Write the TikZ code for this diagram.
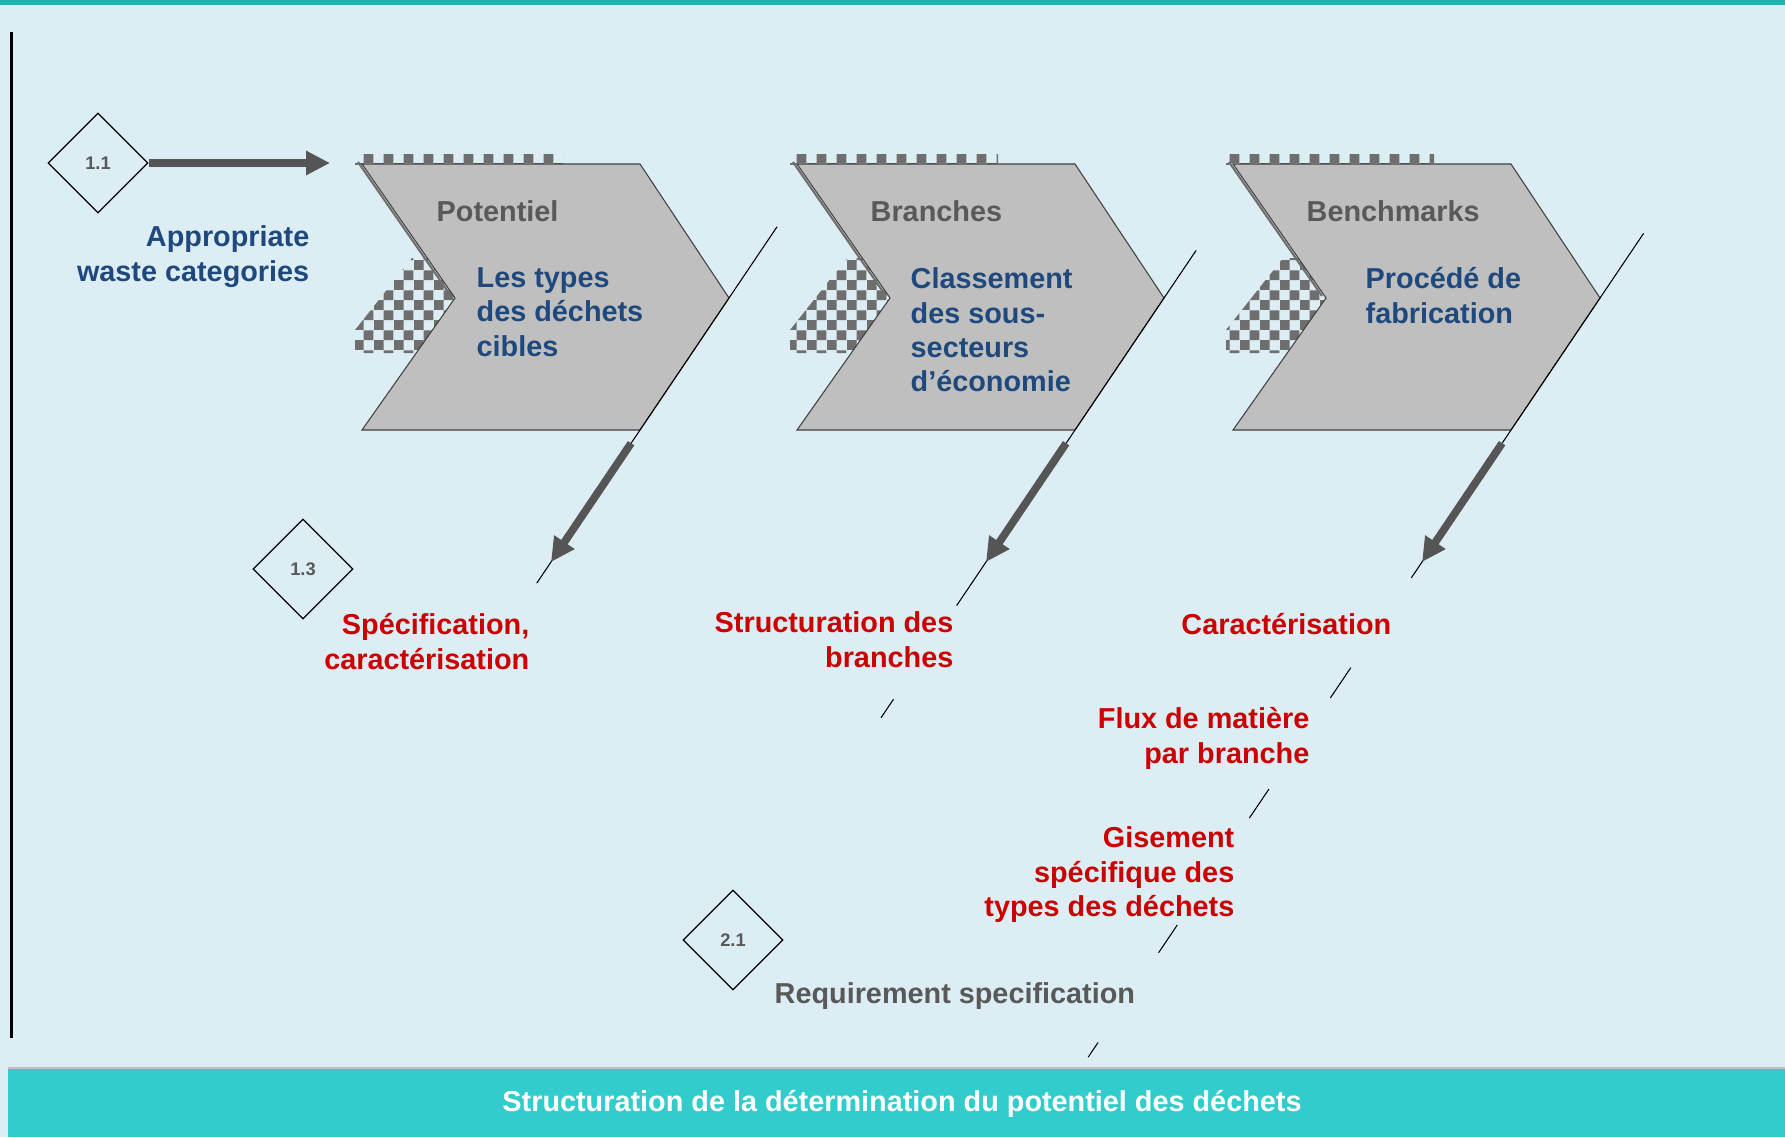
\documentclass[tikz,border=0pt]{standalone}
\usepackage{fontspec}
\setmainfont{Liberation Sans}
\usetikzlibrary{shapes.geometric, arrows.meta, patterns, calc}

\definecolor{fond}{RGB}{220,238,244}
\definecolor{bande}{RGB}{51,204,204}
\definecolor{bleu}{RGB}{31,73,125}
\definecolor{rouge}{RGB}{204,0,0}
\definecolor{gris}{RGB}{89,89,89}
\definecolor{fleche}{RGB}{85,85,85}
\definecolor{ombre}{RGB}{110,110,110}

% petit damier pour les ombres
\pgfdeclarepatternformonly{damier}{\pgfpointorigin}{\pgfqpoint{5.6pt}{5.6pt}}{\pgfqpoint{5.6pt}{5.6pt}}{
	\pgfpathrectangle{\pgfpointorigin}{\pgfqpoint{2.8pt}{2.8pt}}
	\pgfpathrectangle{\pgfqpoint{2.8pt}{2.8pt}}{\pgfqpoint{2.8pt}{2.8pt}}
	\pgfusepath{fill}
}

\tikzset{
  etape/.style={draw=black!75, fill=black!25, line width=0.3pt},
  losange/.style={draw, diamond, aspect=1, minimum size=1cm, inner sep=0pt, line width=0.35pt, text=gris, font=\fontsize{5.2}{6}\selectfont\bfseries},
  texte/.style={inner sep=0pt, font=\fontsize{8.2}{9.8}\selectfont\bfseries},
  grosse/.style={draw=fleche, line width=2.2pt, -{Triangle[length=0.24cm, width=0.23cm]}},
  fin/.style={line width=0.3pt}
}

\begin{document}
\begin{tikzpicture}
	\useasboundingbox (0,0) rectangle (17.85,-11.37);
	% fond et bandes
	\fill[fond] (0,0) rectangle (17.85,-11.37);
	\fill[bande!85!black] (0,0) rectangle (17.85,-0.05);
	\fill[bande] (0.08,-10.68) rectangle (17.85,-11.37);
	\draw[black!25] (0.08,-10.68) -- (17.85,-10.68);
	\draw[line width=0.03cm] (0.11,-0.32) -- (0.11,-10.38);
	
	% les trois etapes
	\foreach \nom/\x in {pot/0, bra/4.35, ben/8.71} {
		\begin{scope}[xshift=\x cm]
			\fill[pattern=damier, pattern color=ombre] (3.55,-1.54) rectangle (5.63,-1.64);
			\fill[pattern=damier, pattern color=ombre] (3.55,-3.53) -- (3.55,-3.30) -- (4.12,-2.58) -- (4.80,-2.58) -- (4.80,-3.53) -- cycle;
			\draw[ombre, line width=0.6pt] (3.58,-1.62) -- (4.51,-2.96);
			\draw[etape] (3.62,-1.64) -- (6.40,-1.64) -- (7.29,-2.98) -- (6.40,-4.30) -- (3.62,-4.30) -- (4.55,-2.98) -- cycle;
			\coordinate (\nom-tip) at (7.29,-2.98);
			\coordinate (\nom-bas) at (6.40,-4.30);
		\end{scope}
	}
	
	\foreach \nom/\a/\b in {pot/1.54/-1.16, bra/1.36/-1.33, ben/1.49/-1.12}
		\draw[fin] ($(\nom-bas)!\a!(\nom-tip)$) -- ($(\nom-bas)!\b!(\nom-tip)$);
	\foreach \nom in {pot, bra, ben}
		\draw[grosse] ($(\nom-bas)!-0.1!(\nom-tip)$) -- ($(\nom-bas)!-1.0!(\nom-tip)$);
	
	% bouts de traits caches par les textes
	\foreach \a/\b in {-1.80/-2.03, -2.72/-2.94, -3.75/-3.96, -4.64/-4.75}
		\draw[fin] ($(ben-bas)!\a!(ben-tip)$) -- ($(ben-bas)!\b!(ben-tip)$);
	\draw[fin] ($(bra-bas)!-2.04!(bra-tip)$) -- ($(bra-bas)!-2.18!(bra-tip)$);
	
	% losanges
	\node[losange] (d11) at (0.98,-1.63) {1.1};
	\node[losange] (d13) at (3.03,-5.69) {1.3};
	\node[losange] (d21) at (7.33,-9.40) {2.1};
	\coordinate (pot-in) at (3.30,-1.63);
	\draw[grosse] (d11) -- (pot-in);
	
	% textes
	\node[texte, text=bleu, anchor=north east, align=right] (appr) at (3.10,-2.25) {Appropriate\\waste categories};
	
	\node[texte, text=gris, anchor=north west] (tpot) at (4.36,-2.00) {Potentiel};
	\node[texte, text=bleu, anchor=north west, align=left] (dpot) at (4.76,-2.67) {Les types\\des déchets\\cibles};
	\node[texte, text=gris, anchor=north west] (tbra) at (8.70,-2.00) {Branches};
	\node[texte, text=bleu, anchor=north west, align=left] (dbra) at (9.10,-2.67) {Classement\\des sous-\\secteurs\\d’économie};
	\node[texte, text=gris, anchor=north west] (tben) at (13.06,-2.00) {Benchmarks};
	\node[texte, text=bleu, anchor=north west, align=left] (dben) at (13.65,-2.67) {Procédé de\\fabrication};
	
	\node[texte, text=rouge, anchor=north east, align=right] (spec) at (5.30,-6.13) {Spécification,\\caractérisation};
	\node[texte, text=rouge, anchor=north east, align=right] (stru) at (9.54,-6.11) {Structuration des\\branches};
	\node[texte, text=rouge, anchor=north east] (cara) at (13.92,-6.13) {Caractérisation};
	\node[texte, text=rouge, anchor=north east, align=right] (flux) at (13.10,-7.07) {Flux de matière\\par branche};
	\node[texte, text=rouge, anchor=north east, align=right] (gise) at (12.35,-8.26) {Gisement\\spécifique des\\types des déchets};
	\node[texte, text=gris, anchor=north west] (requ) at (7.74,-9.82) {Requirement specification};
	
	\node[texte, text=white] (titre) at (9.02,-11.04) {Structuration de la détermination du potentiel des déchets};
\end{tikzpicture}
\end{document}
